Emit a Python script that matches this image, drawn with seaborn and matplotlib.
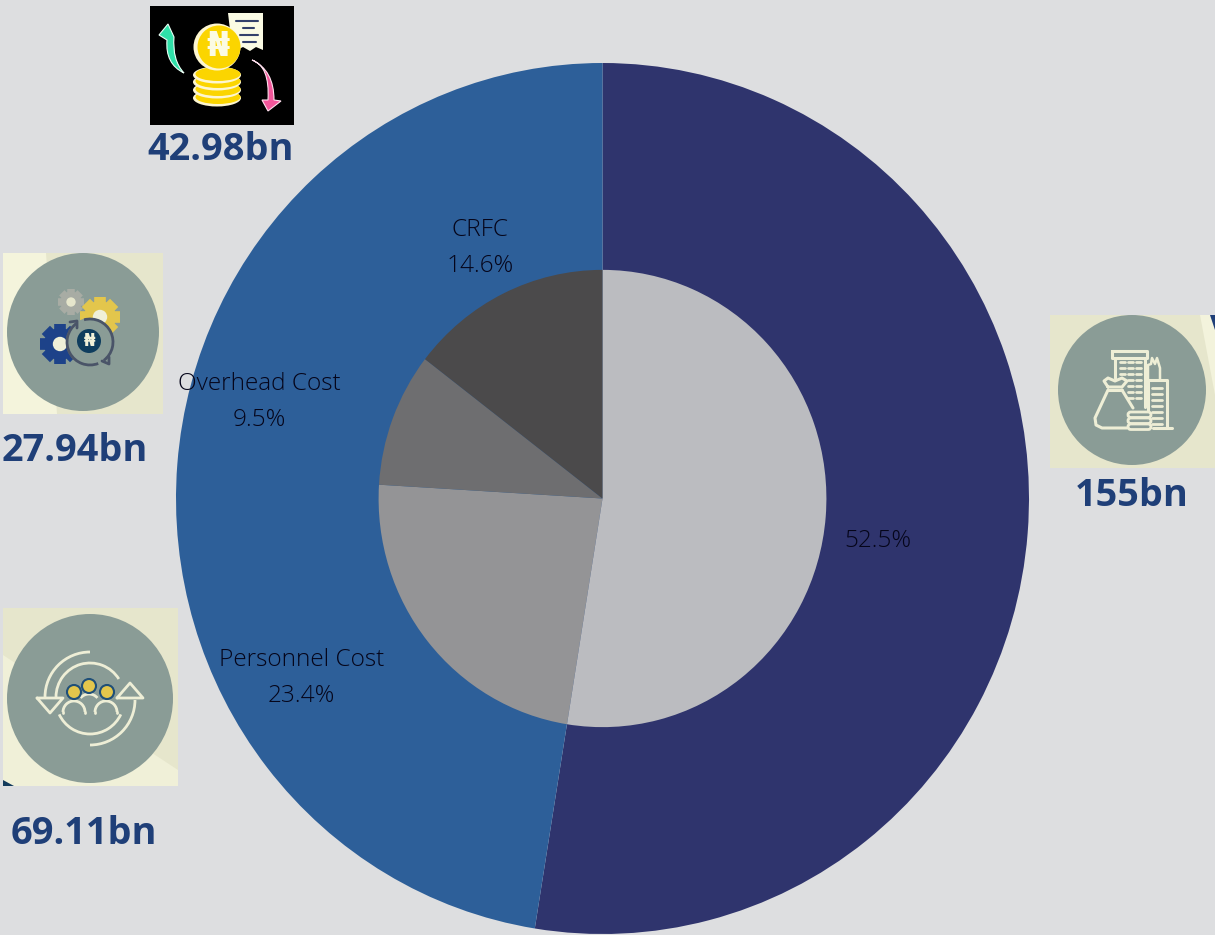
import numpy as np
import matplotlib
matplotlib.use("Agg")
import matplotlib.pyplot as plt
import matplotlib.patches as mp
from matplotlib.path import Path
import seaborn as sns

# ---- data ----
categories = ["Capital", "Personnel Cost", "Overhead Cost", "CRFC"]
values_bn = [155.0, 69.11, 27.94, 42.98]
value_labels = ["155bn", "69.11bn", "27.94bn", "42.98bn"]
percent_labels = ["52.5%", "23.4%", "9.5%", "14.6%"]
outer_groups = [155.0, 140.03]

BG = "#dddee0"
outer_palette = sns.color_palette(["#2f346d", "#2d5f99"])
inner_palette = sns.color_palette(["#bbbcc0", "#949496", "#6e6e70", "#4b4a4b"])
NAVY = "#1f3f78"
CREAM = "#e6e6cc"
LIGHT = "#f4f4dc"
DISC = "#8a9c96"
LINE = "#eeeed6"
YEL = "#e3c64c"

sns.set_theme(style="white")
plt.rcParams["font.family"] = ["Open Sans", "DejaVu Sans"]

W, H = 1215, 935
fig = plt.figure(figsize=(W / 100, H / 100), dpi=100, facecolor=BG)

# ---- doughnut ----
ax = fig.add_axes([176 / W, 1 - 934 / H, 853 / W, 871 / H])
nolines = dict(linewidth=0, edgecolor="none")
ax.pie(outer_groups, colors=outer_palette, startangle=90, counterclock=False, radius=1.0, wedgeprops=nolines)
ax.pie(values_bn, colors=inner_palette, startangle=90, counterclock=False, radius=0.525, wedgeprops=nolines)
ax.set_aspect("auto")
ax.set_xlim(-1, 1)
ax.set_ylim(-1, 1)
ax.axis("off")

# ---- overlay in pixel coordinates ----
ov = fig.add_axes([0, 0, 1, 1], facecolor="none")
ov.set_xlim(0, W)
ov.set_ylim(H, 0)
ov.axis("off")


def rect(x0, y0, x1, y1, fc, ec="none", lw=0, z=3):
    ov.add_patch(mp.Rectangle((x0, y0), x1 - x0, y1 - y0, fc=fc, ec=ec, lw=lw, zorder=z))


def poly(pts, fc, ec="none", lw=0, z=3, closed=True):
    ov.add_patch(mp.Polygon(pts, closed=closed, fc=fc, ec=ec, lw=lw, zorder=z, joinstyle="round"))


def disc(x, y, rx, ry=None, fc=DISC, ec="none", lw=0, z=4):
    ry = rx if ry is None else ry
    ov.add_patch(mp.Ellipse((x, y), 2 * rx, 2 * ry, fc=fc, ec=ec, lw=lw, zorder=z))


def arc(x, y, r, a0, a1, color=LINE, lw=2, z=5):
    ov.add_patch(mp.Arc((x, y), 2 * r, 2 * r, theta1=a0, theta2=a1, ec=color, lw=lw, zorder=z))


def seg(pts, color=LINE, lw=2, z=5):
    xs, ys = zip(*pts)
    ov.plot(xs, ys, color=color, lw=lw, zorder=z, solid_capstyle="round", solid_joinstyle="round")


def curve(pts, fc, ec, z=5):
    codes = [Path.MOVETO] + [Path.LINETO if p[2] else Path.CURVE3 for p in pts[1:]]
    ov.add_patch(mp.PathPatch(Path([(p[0], p[1]) for p in pts], codes), fc=fc, ec=ec, lw=0.8, zorder=z))


def gear(x, y, r, color, hole):
    t = np.linspace(0, 2 * np.pi, 8, endpoint=False)
    for a in t:
        ov.plot([x, x + r * np.cos(a)], [y, y + r * np.sin(a)], color=color,
                lw=r * 0.42, solid_capstyle="butt", zorder=5)
    disc(x, y, r * 0.8, fc=color, z=5)
    disc(x, y, r * 0.36, fc=hole, z=6)


# coin icon
rect(150, 6, 294, 125, "#000000")
poly([(228, 13), (263, 13), (263, 50), (256, 47), (250, 51), (243, 47), (237, 50), (232, 47)], "#fbfbe4", z=4)
for y0, x0, x1 in [(21, 236, 258), (28, 243, 254), (35, 240, 258), (42, 243, 256)]:
    seg([(x0, y0), (x1, y0)], color="#33406b", lw=1.5)
for yy in [98, 90, 82, 75]:
    disc(217, yy, 24, 8.5, fc="#fdf6d0", z=5)
    disc(218, yy - 1, 22.5, 7, fc="#fbd500", z=5)
disc(217, 47, 23.5, fc="#fdf6d0", z=6)
disc(219, 47, 21.5, fc="#fbd500", z=6)
ov.text(224 - 6, 46, "₦", color="#fbfbe4", fontsize=24, fontweight="bold",
        family=["DejaVu Sans"], ha="center", va="center", zorder=7)
# green arrow: tapered tail curving up to the head
curve([(184, 73, 1), (165, 64, 0), (167, 40, 0), (159, 35, 1), (168, 24, 1), (174, 37, 1),
       (172, 60, 0), (184, 73, 0)], "#2fe0a8", "#eafff5")
# pink arrow: tapered tail curving down to the head
curve([(252, 60, 1), (270, 66, 0), (268, 100, 0), (262, 100, 1), (268, 111, 1), (281, 101, 1),
       (274, 100, 1), (274, 70, 0), (252, 60, 0)], "#f2569a", "#ffe0ee")

# gears icon
rect(3, 253, 163, 414, CREAM)
poly([(3, 253), (46, 253), (57, 414), (3, 414)], LIGHT, z=3)
disc(83, 332, 76, 79)
gear(71, 302, 13, "#a8aca4", "#e6e6cc")
gear(100, 317, 20, "#e3c64c", "#f0f0d8")
gear(60, 344, 20, "#1d4289", "#f0f0d8")
disc(90, 342, 24, fc=DISC, z=6)
arc(90, 342, 23, 69, 234, color="#4a5468", lw=2, z=7)
arc(90, 342, 23, 255, 413, color="#4a5468", lw=2, z=7)
seg([(70, 322), (77, 321), (77, 328)], color="#4a5468", lw=2, z=7)
seg([(102, 361), (109, 364), (109, 357)], color="#4a5468", lw=2, z=7)
disc(89, 341, 12, fc="#0f3d5e", z=8)
ov.text(89, 341, "₦", color="#f0f0d8", fontsize=12, fontweight="bold",
        family=["DejaVu Sans"], ha="center", va="center", zorder=9)

# people icon
rect(3, 608, 178, 786, CREAM)
poly([(3, 655), (178, 770), (178, 786), (3, 786)], "#f0f0d8", z=3)
poly([(3, 780), (14, 786), (3, 786)], "#123a5c", z=3)
disc(90, 698.5, 83, 84.5)
arc(90, 697, 45, 180, 270, lw=2)
arc(90, 700, 45, 0, 90, lw=2)
arc(90, 697, 34, 180, 328, lw=2)
arc(90, 700, 34, 25, 155, lw=2)
seg([(37, 698), (50, 713), (63, 698), (37, 698)])
seg([(117, 698), (130, 683), (143, 698), (117, 698)])
for x, y in [(74, 692), (89, 686), (107, 692)]:
    disc(x, y, 7, fc=YEL, ec="#1f4f78", lw=1.5, z=6)
for x in (74, 106):
    arc(x, 712, 11, 180, 360, lw=2)
    seg([(x - 11, 712), (x - 11, 713)])
    seg([(x + 11, 712), (x + 11, 713)])
arc(89, 705, 11, 220, 320, lw=2)

# buildings icon
rect(1050, 315, 1215, 468, CREAM)
poly([(1200, 315), (1215, 315), (1215, 395)], "#f3f3dc", z=3)
poly([(1210, 315), (1215, 315), (1215, 330)], "#1f3f78", z=3)
disc(1132, 390, 74, 75)
seg([(1112, 351), (1147, 351), (1147, 358), (1112, 358), (1112, 351)], lw=2.2)
seg([(1115, 358), (1115, 378)], lw=2.2)
seg([(1145, 358), (1145, 407)], lw=2.2)
seg([(1148, 380), (1167, 380), (1167, 428)], lw=2.2)
seg([(1148, 380), (1148, 412)], lw=2.2)
seg([(1148, 380), (1148, 365), (1151, 364), (1152, 358), (1155, 364), (1157, 358), (1160, 368), (1160, 380)], lw=1.8)
seg([(1153, 428), (1172, 428)], lw=2.2)
for j in range(7):
    yy = 362 + j * 6
    for x0 in (1120, 1128, 1136):
        if j < 3 or x0 > 1125:
            seg([(x0, yy), (x0 + 5, yy)], lw=2)
for j in range(7):
    yy = 388 + j * 6
    seg([(1152, yy), (1162, yy)], lw=2)
# bag
seg([(1108, 390), (1095, 418), (1096, 425), (1102, 428), (1127, 428)], lw=2.2)
seg([(1122, 390), (1133, 408)], lw=2.2)
seg([(1108, 390), (1122, 390)], lw=2.2)
seg([(1108, 387), (1104, 381), (1108, 378), (1115, 381), (1122, 378), (1127, 381), (1122, 387), (1108, 387)], lw=2.2)
# coins
for yy in (415, 421, 427):
    ov.add_patch(mp.FancyBboxPatch((1128, yy - 3), 23, 5.5, boxstyle="round,pad=0,rounding_size=2.7",
                                   fc=DISC, ec=LINE, lw=2, zorder=6))

# value labels
value_pos = [(1132, 496), (84, 834), (75, 451), (221, 150)]
for (x, y), s in zip(value_pos, value_labels):
    ov.text(x, y, s, color=NAVY, fontsize=27.3, fontweight="bold", ha="center", va="center", zorder=10)

# percent labels
label_kw = dict(color="#05051a", fontsize=17.6, fontweight="light", ha="center", va="center", zorder=10)
ov.text(878, 541, percent_labels[0], **label_kw)
for (x, y0, y1), name, p in zip([(301.5, 660.5, 696.5), (259, 384.5, 420.5), (480, 230.5, 265.5)],
                                categories[1:], percent_labels[1:]):
    ov.text(x, y0, name, **label_kw)
    ov.text(x, y1, p, **label_kw)

fig.savefig("out.png", dpi=100, facecolor=BG)
